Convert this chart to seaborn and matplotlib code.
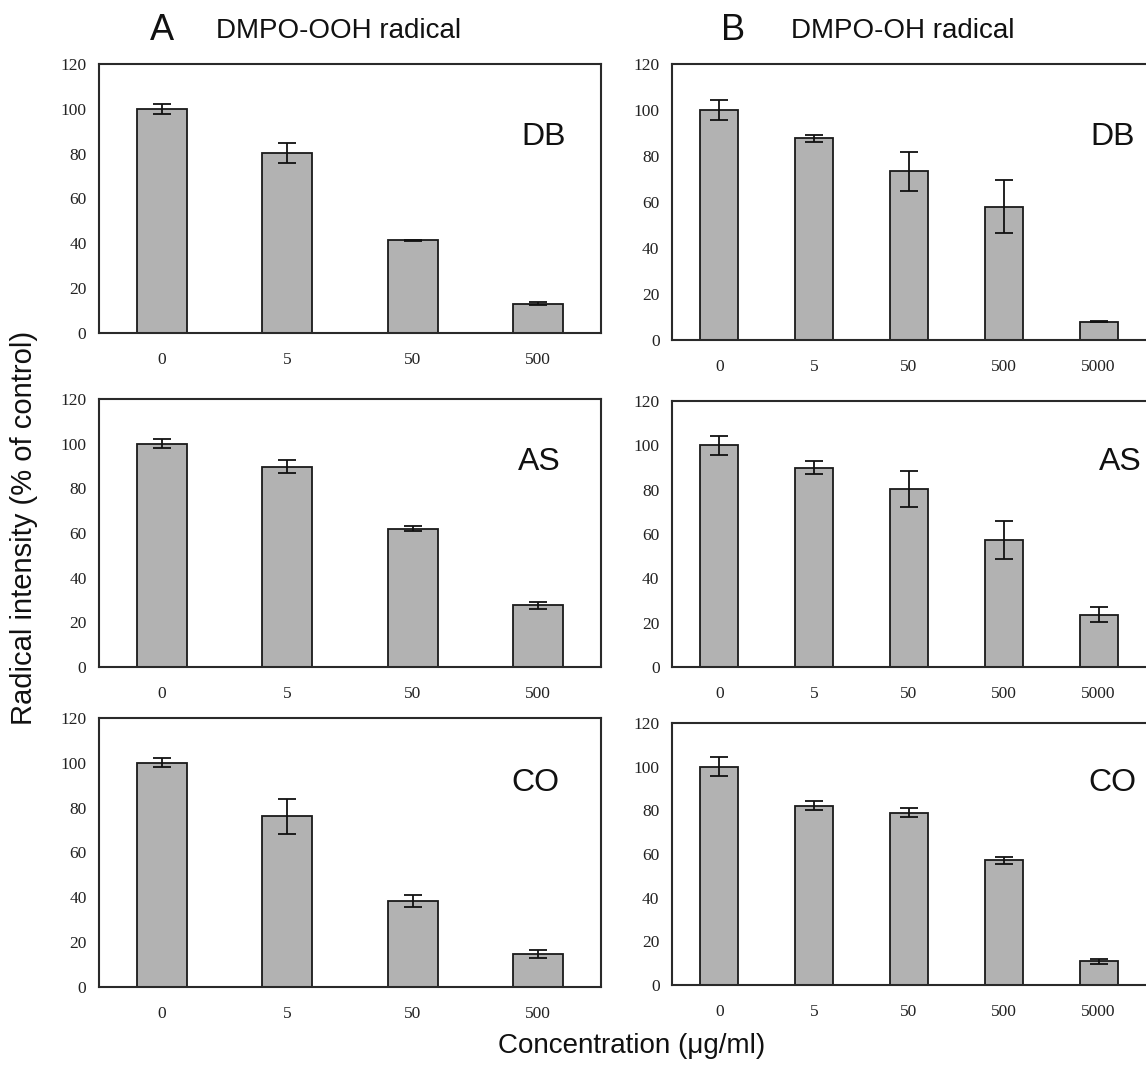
import matplotlib
matplotlib.use("Agg")
import matplotlib.pyplot as plt
import seaborn as sns
import pandas as pd
import numpy as np

# ---- data ----
conc_A = ["0", "5", "50", "500"]
conc_B = ["0", "5", "50", "500", "5000"]

A_DB = [100.0, 80.3, 41.3, 13.1]
A_DB_err = [2.1, 4.4, 0.4, 0.7]
A_AS = [100.0, 89.7, 61.9, 27.6]
A_AS_err = [2.1, 2.9, 1.2, 1.6]
A_CO = [100.0, 76.1, 38.4, 14.7]
A_CO_err = [2.0, 7.9, 2.5, 1.6]

B_DB = [100.0, 87.8, 73.4, 58.0, 8.0]
B_DB_err = [4.5, 1.5, 8.4, 11.4, 0.3]
B_AS = [100.0, 89.9, 80.5, 57.3, 23.6]
B_AS_err = [4.4, 3.0, 8.1, 8.6, 3.3]
B_CO = [100.0, 82.2, 78.9, 57.2, 10.9]
B_CO_err = [4.5, 2.1, 2.0, 1.6, 1.2]

samples = ["DB", "AS", "CO"]
yticks = [0, 20, 40, 60, 80, 100, 120]

sns.set_style("white")
plt.rcParams['font.family'] = ['Liberation Sans', 'DejaVu Sans']

W, H = 1146, 1066
fig = plt.figure(figsize=(W / 100, H / 100), dpi=100)

def px_axes(x0, x1, y0, y1):
    return fig.add_axes([x0 / W, 1 - y1 / H, (x1 - x0) / W, (y1 - y0) / H])

left_rows = [(64, 333), (399, 667), (718, 987)]
right_rows = [(64, 340), (401, 667), (723, 985)]

A_vals = [A_DB, A_AS, A_CO]
A_errs = [A_DB_err, A_AS_err, A_CO_err]
B_vals = [B_DB, B_AS, B_CO]
B_errs = [B_DB_err, B_AS_err, B_CO_err]

bar_color = "#b2b2b2"
edge = "#1a1a1a"
spine_c = "#2a2a2a"

def draw(ax, cats, vals, errs, xlim, label, label_xy, right_spine=True):
    df = pd.DataFrame({"conc": cats, "val": vals})
    sns.barplot(data=df, x="conc", y="val", order=cats, color=bar_color,
                width=0.4, edgecolor=edge, linewidth=1.3, saturation=1,
                errorbar=None, ax=ax)
    ax.errorbar(np.arange(len(cats)), vals, yerr=errs, fmt="none",
                ecolor="#111111", elinewidth=1.3, capsize=6.5, capthick=1.3)
    ax.set_xlim(*xlim)
    ax.set_ylim(0, 120)
    ax.set_yticks(yticks)
    ax.set_yticklabels([str(t) for t in yticks], family=["Liberation Serif"], fontsize=12.5, color="#222")
    ax.set_xticks(range(len(cats)))
    ax.set_xticklabels(cats, family=["Liberation Serif"], fontsize=12.5, color="#222")
    ax.set_xticks(np.arange(len(cats)) + 0.5, minor=True)
    ax.tick_params(axis="x", which="major", length=0, pad=14)
    ax.tick_params(axis="x", which="minor", length=4, direction="in", color="#888", width=0.8)
    ax.tick_params(axis="y", which="major", length=3, direction="out", color="#999", width=0.6, pad=6)
    ax.set_xlabel("")
    ax.set_ylabel("")
    for s in ax.spines.values():
        s.set_color(spine_c)
        s.set_linewidth(1.5)
        s.set_visible(True)
    if not right_spine:
        ax.spines["right"].set_visible(False)
    ax.text(label_xy[0], label_xy[1], label, transform=fig.transFigure,
            ha="center", va="center", fontsize=23, color="#111")

left_label_xy = [(544, 137), (539, 462), (535, 783)]
right_label_xy = [(1113, 137), (1120, 462), (1112, 783)]

for i in range(3):
    ax = px_axes(99, 601, *left_rows[i])
    lx, ly = left_label_xy[i]
    draw(ax, conc_A, A_vals[i], A_errs[i], (-0.5, 3.5), samples[i], (lx / W, 1 - ly / H))
    ax = px_axes(672, 1146, *right_rows[i])
    lx, ly = right_label_xy[i]
    draw(ax, conc_B, B_vals[i], B_errs[i], (-0.5, 4.42), samples[i], (lx / W, 1 - ly / H), right_spine=False)

# headers
fig.text(162 / W, 1 - 30 / H, "A", ha="center", va="center", fontsize=26, color="#111")
fig.text(339 / W, 1 - 31 / H, "DMPO-OOH radical", ha="center", va="center", fontsize=20, color="#111")
fig.text(733 / W, 1 - 30 / H, "B", ha="center", va="center", fontsize=26, color="#111")
fig.text(903 / W, 1 - 31 / H, "DMPO-OH radical", ha="center", va="center", fontsize=20, color="#111")

fig.text(24 / W, 1 - 528 / H, "Radical intensity (% of control)", rotation=90,
         ha="center", va="center", fontsize=21, color="#111")
fig.text(632 / W, 1 - 1046 / H, "Concentration (\u03bcg/ml)", ha="center", va="center",
         fontsize=20, color="#111")

fig.savefig("out.png", dpi=100)
